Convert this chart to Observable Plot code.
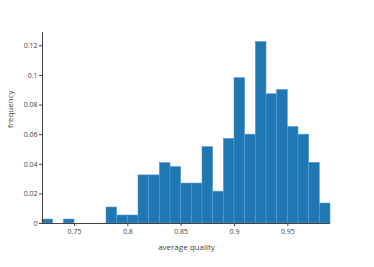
<!DOCTYPE html>
<html>
<head>
<meta charset="utf-8">
<script src="https://cdn.jsdelivr.net/npm/d3@7"></script>
<script src="https://cdn.jsdelivr.net/npm/@observablehq/plot@0.6"></script>
<style>
  html, body { margin: 0; padding: 0; background: #fff; }
  svg { display: block; }
</style>
</head>
<body>
<div id="chart"></div>
<script>
const binStart = [0.72,0.73,0.74,0.75,0.76,0.77,0.78,0.79,0.80,0.81,0.82,0.83,0.84,0.85,0.86,0.87,0.88,0.89,0.90,0.91,0.92,0.93,0.94,0.95,0.96,0.97,0.98];
const binEnd   = [0.73,0.74,0.75,0.76,0.77,0.78,0.79,0.80,0.81,0.82,0.83,0.84,0.85,0.86,0.87,0.88,0.89,0.90,0.91,0.92,0.93,0.94,0.95,0.96,0.97,0.98,0.99];
const frequency = [0.0027,0,0.0027,0,0,0,0.0108,0.0054,0.0054,0.0325,0.0325,0.0408,0.0381,0.027,0.027,0.0516,0.0215,0.0572,0.0982,0.060,0.1226,0.0873,0.0902,0.0652,0.060,0.041,0.0135];
const xTicks = [0.75,0.8,0.85,0.9,0.95];
const yTicks = [0,0.02,0.04,0.06,0.08,0.1,0.12];

const data = binStart.map((s, i) => ({x1: s, x2: binEnd[i], y: frequency[i]})).filter(d => d.y > 0);
const fmt = d => String(+d.toFixed(2));

const chart = Plot.plot({
  width: 374,
  height: 267,
  marginLeft: 42,
  marginRight: 44,
  marginTop: 32,
  marginBottom: 44,
  style: {fontFamily: "'Open Sans', sans-serif", fontSize: "7px", color: "#444", background: "#fff"},
  x: {domain: [0.72, 0.99]},
  y: {domain: [0, 0.129]},
  marks: [
    Plot.rectY(data, {x1: "x1", x2: "x2", y: "y", fill: "#1f77b4", stroke: "#5b9ed3", strokeWidth: 0.6}),
    Plot.ruleY([0], {stroke: "#444", strokeWidth: 1}),
    Plot.ruleX([0.72], {stroke: "#444", strokeWidth: 1}),
    Plot.axisX({ticks: xTicks, tickFormat: fmt, tickSize: 3, tickPadding: 3, stroke: "#444", fill: "#444", label: null}),
    Plot.axisY({ticks: yTicks, tickFormat: fmt, tickSize: 3, tickPadding: 2, stroke: "#444", fill: "#444", label: null}),
    Plot.text(["average quality"], {frameAnchor: "bottom", dy: 26, fontSize: 8, fill: "#444", lineAnchor: "bottom"}),
    Plot.text(["frequency"], {frameAnchor: "left", dx: -32, rotate: -90, fontSize: 8, fill: "#444"})
  ]
});
document.getElementById("chart").appendChild(chart);
</script>
</body>
</html>
